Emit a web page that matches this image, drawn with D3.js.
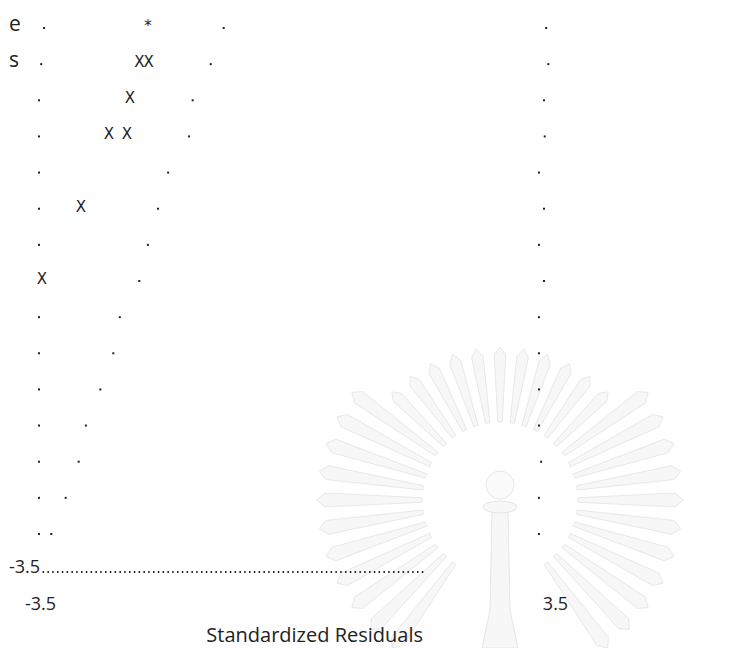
<!DOCTYPE html>
<html lang="en">

<head>
    <meta charset="UTF-8">
    <title>Normal P-P Plot (text)</title>
    <script src="https://d3js.org/d3.v7.min.js"></script>
    <style>
        body {
            margin: 0;
            background: #fff;
        }

        svg text {
            font-family: 'Open Sans', 'DejaVu Sans', sans-serif;
            fill: #222;
        }

        .mark {
            font-family: 'DejaVu Sans', sans-serif !important;
            font-size: 15px;
        }
    </style>
</head>

<body>
    <div id="chart"></div>
    <script>
        // rows of the text plot, top to bottom
        var rowIds = [1, 2, 3, 4, 5, 6, 7, 8, 9, 10, 11, 12, 13, 14, 15];

        // left frame dots (null = replaced by a marker)
        var leftFrame = [-3.43, -3.47, -3.5, -3.5, -3.5, -3.5, -3.5, null, -3.5, -3.5, -3.5, -3.5, -3.5, -3.5, -3.5];
        // right frame dots
        var rightFrame = [3.53, 3.56, 3.5, 3.51, 3.43, 3.5, 3.43, 3.5, 3.43, 3.43, 3.43, 3.43, 3.46, 3.43, 3.43];
        // diagonal reference dots
        var refDots = [-0.94, -1.12, -1.37, -1.42, -1.71, -1.85, -1.99, -2.11, -2.38, -2.47, -2.65, -2.85, -2.95, -3.13, -3.33];

        // observed cases
        var markerRow = [1, 2, 2, 3, 4, 4, 6, 8];
        var markerX = [-1.99, -2.11, -1.98, -2.24, -2.53, -2.28, -2.92, -3.46];
        var markerSym = ["*", "X", "X", "X", "X", "X", "X", "X"];

        // y label fragments on the first rows
        var yLabelRow = [1, 2];
        var yLabelText = ["e", "s"];

        // bottom dotted line of the frame
        var baseLine = [-3.45, 1.85];
        var baseLabel = "-3.5";

        var xTicks = [-3.5, 3.5];
        var xTitle = "Standardized Residuals";

        var width = 754, height = 648;

        var svg = d3.select("#chart")
            .append("svg")
            .attr("width", width)
            .attr("height", height);

        var x = d3.scaleLinear()
            .domain([-3.5, 3.5])
            .range([39, 544]);

        var y = d3.scaleLinear()
            .domain([1, 15])
            .range([29, 535]);

        // faint watermark emblem behind the plot
        var wm = svg.append("g").attr("class", "watermark");
        var cx = 500, cy = 500;
        for (var a = -180; a < 180; a += 9) {
            if (a > 62 && a < 118) continue;
            var r1 = 78, r2 = (a < -40 && a > -140) ? 145 : 175;
            var t = a * Math.PI / 180, w1 = 0.028, w2 = 0.04;
            var pts = [
                [cx + r1 * Math.cos(t - w1), cy + r1 * Math.sin(t - w1)],
                [cx + r2 * Math.cos(t - w2), cy + r2 * Math.sin(t - w2)],
                [cx + (r2 + 8) * Math.cos(t), cy + (r2 + 8) * Math.sin(t)],
                [cx + r2 * Math.cos(t + w2), cy + r2 * Math.sin(t + w2)],
                [cx + r1 * Math.cos(t + w1), cy + r1 * Math.sin(t + w1)]
            ];
            wm.append("path")
                .attr("d", d3.line()(pts) + "Z")
                .attr("fill", "#f7f7f7")
                .attr("stroke", "#e8e8e8")
                .attr("stroke-width", 1);
        }
        wm.append("path")
            .attr("d", "M492,512 L508,512 L510,610 L518,648 L482,648 L490,610 Z")
            .attr("fill", "#f7f7f7")
            .attr("stroke", "#e6e6e6");
        wm.append("ellipse")
            .attr("cx", 500).attr("cy", 507).attr("rx", 17).attr("ry", 6)
            .attr("fill", "#f7f7f7")
            .attr("stroke", "#e6e6e6");
        wm.append("circle")
            .attr("cx", 500).attr("cy", 485).attr("r", 14)
            .attr("fill", "#fbfbfb")
            .attr("stroke", "#e6e6e6");

        var plot = svg.append("g");

        function dots(values, cls) {
            plot.selectAll("." + cls)
                .data(rowIds.filter(function (d, i) { return values[i] !== null; }))
                .enter()
                .append("rect")
                .attr("class", cls)
                .attr("x", function (d) { return x(values[d - 1]) - 1; })
                .attr("y", function (d) { return y(d) - 2; })
                .attr("width", 2)
                .attr("height", 2)
                .attr("fill", "#222");
        }

        dots(leftFrame, "left");
        dots(rightFrame, "right");
        dots(refDots, "ref");

        // case markers
        plot.selectAll(".mark")
            .data(markerX)
            .enter()
            .append("text")
            .attr("class", "mark")
            .attr("x", function (d) { return x(d); })
            .attr("y", function (d, i) { return y(markerRow[i]) + 2; })
            .attr("text-anchor", "middle")
            .text(function (d, i) { return markerSym[i]; });

        // y label letters
        plot.selectAll(".ylab")
            .data(yLabelRow)
            .enter()
            .append("text")
            .attr("class", "ylab")
            .attr("x", 9)
            .attr("y", function (d) { return y(d) + 2; })
            .style("font-size", "21px")
            .text(function (d, i) { return yLabelText[i]; });

        // bottom frame line with its label
        var yBase = 573;
        plot.append("text")
            .attr("x", 9)
            .attr("y", yBase)
            .style("font-size", "18px")
            .text(baseLabel);
        plot.append("line")
            .attr("x1", x(baseLine[0]))
            .attr("x2", x(baseLine[1]))
            .attr("y1", yBase - 1)
            .attr("y2", yBase - 1)
            .attr("stroke", "#222")
            .attr("stroke-width", 2)
            .attr("stroke-dasharray", "1.5 3.3");

        // x axis labels
        var xAxis = svg.append("g")
            .attr("transform", "translate(0,596)")
            .call(d3.axisBottom(x).tickValues(xTicks).tickSize(0)
                .tickFormat(function (d) { return String(d); }));
        xAxis.select(".domain").remove();
        xAxis.selectAll("text")
            .attr("dy", null)
            .attr("y", 14)
            .attr("dx", function (d) { return d > 0 ? 11 : 1; })
            .style("font-family", "'Open Sans', 'DejaVu Sans', sans-serif")
            .style("font-size", "18px")
            .attr("fill", "#222");

        svg.append("text")
            .attr("x", 423)
            .attr("y", 642)
            .attr("text-anchor", "end")
            .style("font-size", "20px")
            .text(xTitle);
    </script>
</body>

</html>
